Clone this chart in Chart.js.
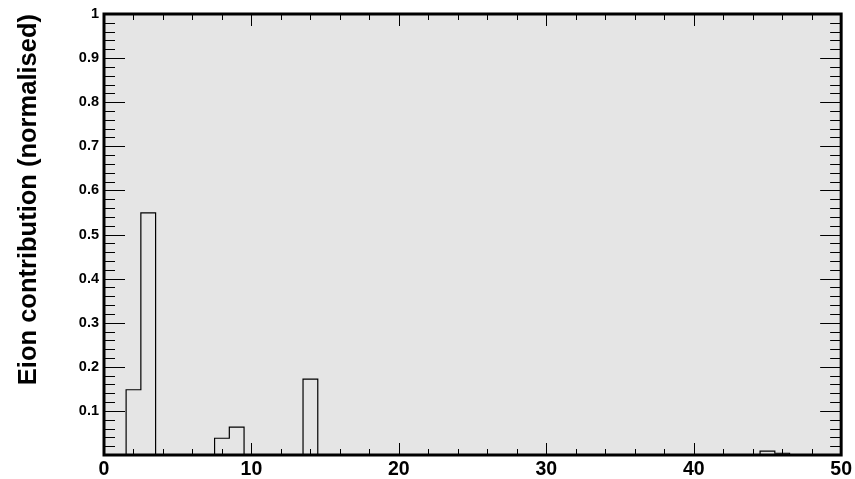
<!DOCTYPE html>
<html>
<head>
<meta charset="utf-8">
<script src="https://cdn.jsdelivr.net/npm/chart.js@4.4.1/dist/chart.umd.min.js"></script>
<style>
  html, body { margin: 0; padding: 0; background: #fff; }
  canvas { display: block; }
</style>
</head>
<body>
<canvas id="eion" width="855" height="479"></canvas>
<script>
// filled bins (bin centre -> normalised Eion contribution), every other bin is empty
var binCentres = [2, 3, 8, 9, 14, 45, 46];
var eionFraction = [0.148, 0.549, 0.038, 0.063, 0.172, 0.009, 0.004];
var nBins = 50;

var xTicks = [0, 10, 20, 30, 40, 50];
var yTicks = [0.1, 0.2, 0.3, 0.4, 0.5, 0.6, 0.7, 0.8, 0.9, 1];
var yTitle = 'Eion contribution (normalised)';

// outline of the histogram: one point per bin at its upper edge;
// 'after' steps rise at the lower edge, then run flat across the bin
var outline = [{x: 0, y: 0}];
for (var c = 1; c <= nBins; c++) {
  var k = binCentres.indexOf(c);
  outline.push({x: Math.min(c + 0.5, nBins), y: k >= 0 ? eionFraction[k] : 0});
}

var frame = {
  id: 'frame',
  beforeDatasetsDraw: function(chart) {
    var a = chart.chartArea, ctx = chart.ctx;
    ctx.save();
    ctx.fillStyle = '#e5e5e5';
    ctx.fillRect(a.left, a.top, a.right - a.left, a.bottom - a.top);
    ctx.restore();
  },
  afterDatasetsDraw: function(chart) {
    var a = chart.chartArea, ctx = chart.ctx;
    var xs = chart.scales.x, ys = chart.scales.y;
    ctx.save();
    ctx.strokeStyle = '#000';
    ctx.lineWidth = 1;
    ctx.beginPath();
    // x ticks, bottom and top, inside the frame
    for (var v = 0; v <= 50; v += 2) {
      var px = Math.round(xs.getPixelForValue(v)) + 0.5;
      var len = (v % 10 === 0) ? 12 : 6;
      ctx.moveTo(px, a.bottom); ctx.lineTo(px, a.bottom - len);
      ctx.moveTo(px, a.top); ctx.lineTo(px, a.top + len);
    }
    // y ticks, left and right
    for (var i = 0; i <= 50; i++) {
      var py = Math.round(ys.getPixelForValue(i * 0.02)) + 0.5;
      var l = (i % 5 === 0) ? 21 : 11;
      ctx.moveTo(a.left, py); ctx.lineTo(a.left + l, py);
      ctx.moveTo(a.right, py); ctx.lineTo(a.right - l, py);
    }
    ctx.stroke();
    ctx.lineWidth = 3;
    ctx.strokeRect(a.left, a.top, a.right - a.left, a.bottom - a.top);
    ctx.restore();
  }
};

var ctx = document.getElementById('eion').getContext('2d');
var chart = new Chart(ctx, {
  type: 'line',
  data: {
    datasets: [{
      data: outline,
      stepped: 'after',
      borderColor: '#000',
      borderWidth: 1.2,
      pointRadius: 0,
      fill: false
    }]
  },
  options: {
    responsive: false,
    animation: false,
    events: [],
    layout: { padding: { top: 14, right: 10, left: 0, bottom: 0 } },
    plugins: { legend: { display: false }, tooltip: { enabled: false } },
    scales: {
      x: {
        type: 'linear',
        min: 0,
        max: 50,
        border: { display: false },
        grid: { display: false, drawTicks: false },
        afterBuildTicks: function(s) { s.ticks = xTicks.map(function(v) { return {value: v}; }); },
        afterFit: function(s) { s.height = 24; },
        ticks: {
          padding: 3,
          color: '#000',
          maxRotation: 0,
          font: { family: 'Liberation Sans, Arial, sans-serif', size: 19.5, weight: 'bold' },
          callback: function(v) { return String(v); }
        }
      },
      y: {
        min: 0,
        max: 1,
        border: { display: false },
        grid: { display: false, drawTicks: false },
        afterBuildTicks: function(s) { s.ticks = yTicks.map(function(v) { return {value: v}; }); },
        afterFit: function(s) { s.width = 104; },
        ticks: {
          padding: 5,
          color: '#000',
          font: { family: 'Liberation Sans, Arial, sans-serif', size: 14.5, weight: 'bold' },
          callback: function(v) { return String(+v.toFixed(1)); }
        },
        title: {
          display: true,
          text: yTitle,
          align: 'end',
          color: '#000',
          padding: { top: 14, bottom: 0 },
          font: { family: 'Liberation Sans, Arial, sans-serif', size: 25.5, weight: 'bold' }
        }
      }
    }
  },
  plugins: [frame]
});
</script>
</body>
</html>
